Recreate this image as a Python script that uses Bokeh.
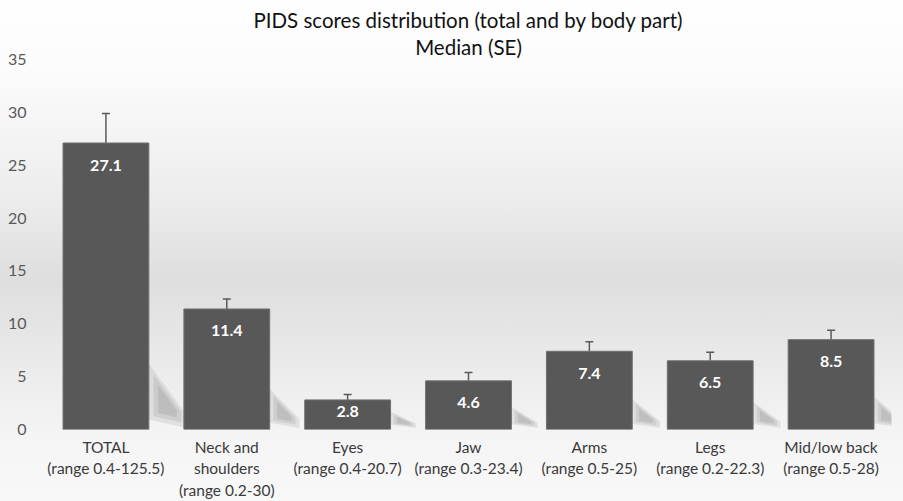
from bokeh.plotting import figure
from bokeh.models import ColumnDataSource, Range1d, FixedTicker, Whisker, TeeHead, Title
from bokeh.embed import file_html
from bokeh.resources import INLINE
from bokeh.core.properties import value

categories = ["TOTAL\n(range 0.4-125.5)", "Neck and\nshoulders\n(range 0.2-30)", "Eyes\n(range 0.4-20.7)",
              "Jaw\n(range 0.3-23.4)", "Arms\n(range 0.5-25)", "Legs\n(range 0.2-22.3)",
              "Mid/low back\n(range 0.5-28)"]
medians = [27.1, 11.4, 2.8, 4.6, 7.4, 6.5, 8.5]
se = [2.8, 0.95, 0.5, 0.8, 0.9, 0.8, 0.9]
y_ticks = [0, 5, 10, 15, 20, 25, 30, 35]
title_lines = ["PIDS scores distribution (total and by body part)", "Median (SE)"]

FONT = "Lato"
BAR_W = 0.71
upper = [m + s for m, s in zip(medians, se)]
labels = [f"{m:.1f}" for m in medians]
px_per_unit = 371 / 35.0
offs = [min(22, m * px_per_unit / 2 - 3) for m in medians]
src = ColumnDataSource(dict(cat=categories, med=medians, up=upper, lab=labels, off=offs))

# soft cast shadows to the right of each bar (decoration only)
shadow_layers = []
for k in (1.0, 0.75, 0.5):
    xs, ys = [], []
    for i, m in enumerate(medians):
        xr = i + 0.5 + BAR_W / 2
        top = min(6.2, 1.0 + 0.25 * m)
        bot = 0.4 + 0.02 * m
        w = 0.2 + 0.004 * m
        pts = [(0, bot), (0, top), (w, 0.3 + 0.4 * (top - 0.4) * 0.5), (w, 0.15)]
        cx = sum(q[0] for q in pts) / 4
        cy = sum(q[1] for q in pts) / 4
        xs.append([xr + max(0, cx + (q[0] - cx) * k) for q in pts])
        ys.append([cy + (q[1] - cy) * k for q in pts])
    shadow_layers.append((xs, ys))

p = figure(x_range=categories, width=903, height=501, output_backend="svg",
           toolbar_location=None, min_border_left=45, min_border_right=12,
           min_border_top=59, min_border_bottom=71)
p.y_range = Range1d(0, 35)
p.styles = {"background": "linear-gradient(to bottom, #ffffff 0%, #fbfbfb 15%, #ececec 40%, #dedede 56%, #eaeaea 72%, #f5f5f5 88%, #f8f8f8 100%)"}
p.background_fill_alpha = 0
p.border_fill_alpha = 0
p.outline_line_color = None
p.xgrid.grid_line_color = None
p.ygrid.grid_line_color = None

for xs, ys in shadow_layers:
    p.patches(xs=xs, ys=ys, fill_color="#000000", fill_alpha=0.075, line_color=None)

p.vbar(x="cat", top="med", width=BAR_W, source=src, fill_color="#585858",
       line_color="#707070", line_width=1)
wh = Whisker(base="cat", upper="up", lower="med", source=src, line_color="#5a5a5a",
             line_width=1.5, upper_head=TeeHead(size=8, line_color="#5a5a5a", line_width=1.5),
             lower_head=None)
p.add_layout(wh)

p.text(x="cat", y="med", text="lab", source=src, text_color="white",
       text_font=value(FONT), text_font_size="16px", text_font_style="bold",
       text_align="center", text_baseline="middle", y_offset="off")

p.title = None
for txt in reversed(title_lines):
    p.add_layout(Title(text=txt, align="center", text_font=FONT, text_font_size="20.5px",
                       text_font_style="normal", text_color="#111111", standoff=1), "above")

p.yaxis.ticker = FixedTicker(ticks=y_ticks)
p.yaxis.axis_line_color = None
p.yaxis.major_tick_line_color = None
p.yaxis.minor_tick_line_color = None
p.yaxis.major_label_text_font = FONT
p.yaxis.major_label_text_font_size = "16px"
p.yaxis.major_label_text_color = "#595959"
p.yaxis.major_label_standoff = 13

p.xaxis.axis_line_color = None
p.xaxis.major_tick_line_color = None
p.xaxis.major_tick_out = 0
p.xaxis.major_label_text_font = FONT
p.xaxis.major_label_text_font_size = "15.5px"
p.xaxis.major_label_text_color = "#3a3a3a"
p.xaxis.major_label_standoff = 8
p.xaxis.major_label_text_line_height = 1.2

open("out.html", "w").write(file_html(p, INLINE))
